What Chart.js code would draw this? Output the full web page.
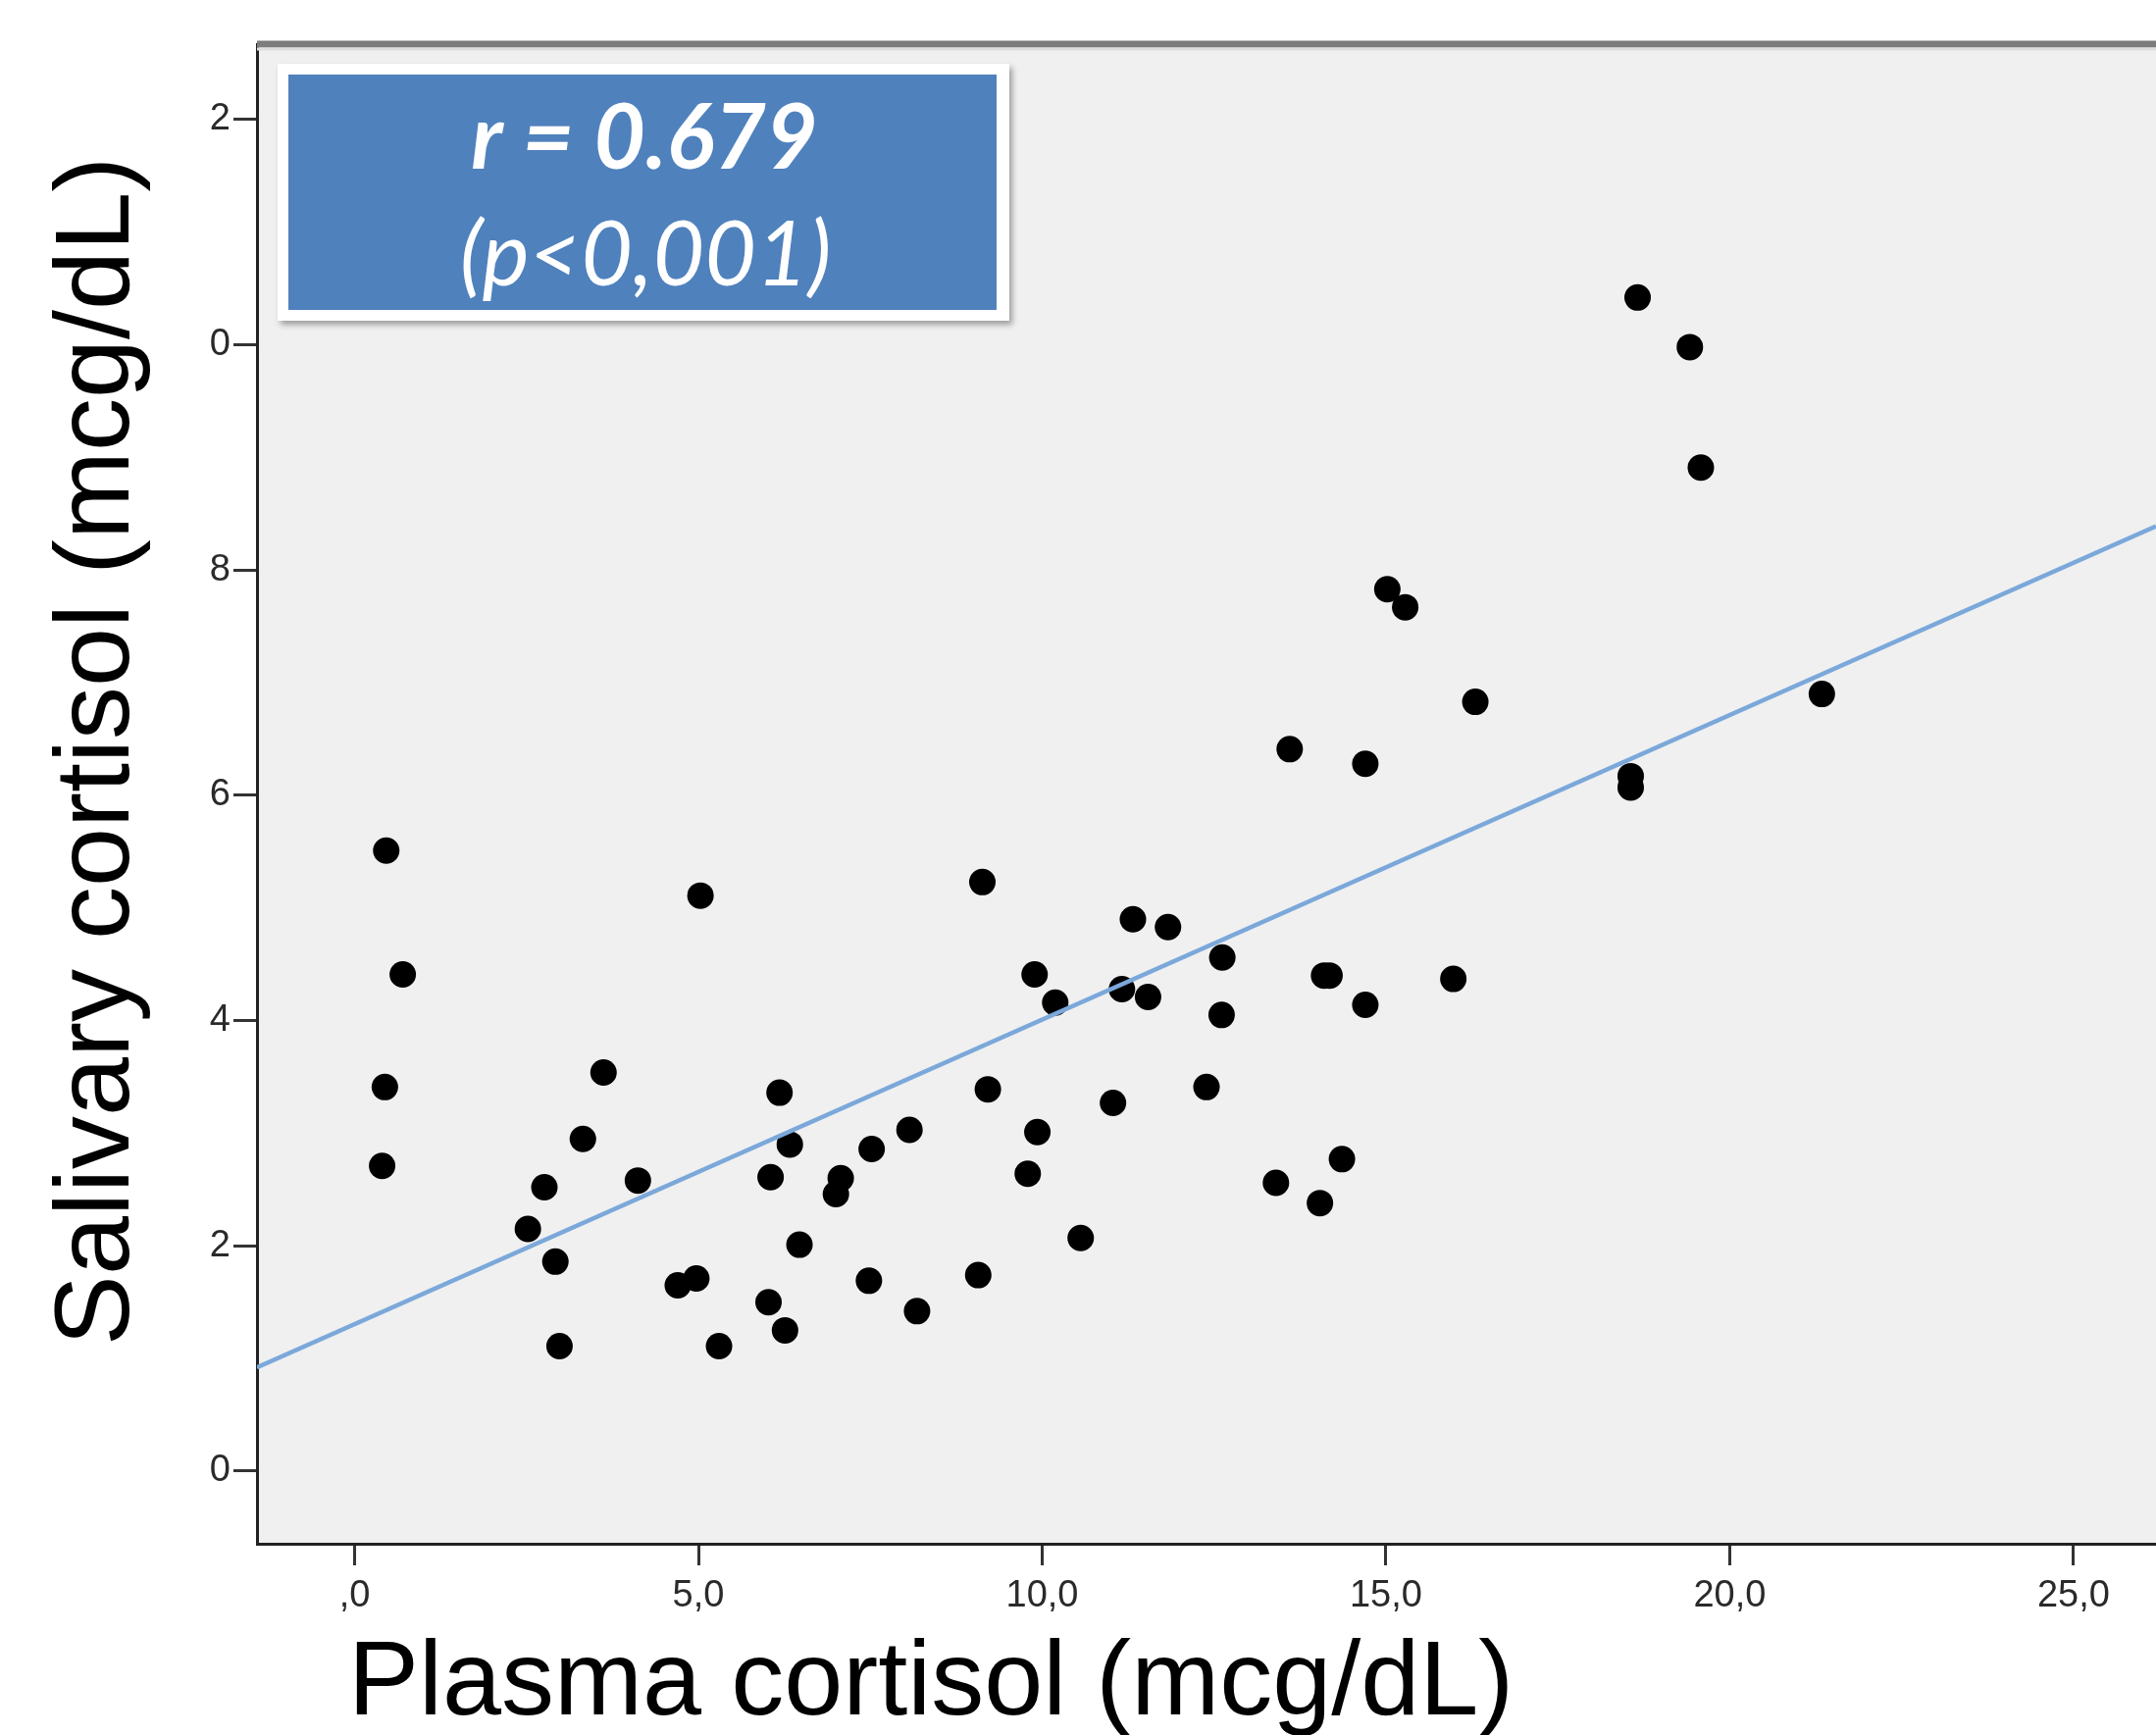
<!DOCTYPE html>
<html>
<head>
<meta charset="utf-8">
<script src="https://cdn.jsdelivr.net/npm/chart.js@4.4.1/dist/chart.umd.min.js"></script>
<style>
  html, body { margin: 0; padding: 0; background: #ffffff; }
  #c { display: block; }
</style>
</head>
<body>
<canvas id="c" width="2198" height="1769" style="width:2198px;height:1769px"></canvas>
<script>
// ---- Data ----
const plasmaCortisol = [0.46,0.70,0.44,0.40,2.52,2.76,2.92,2.98,3.32,3.62,4.12,4.70,4.97,5.03,5.30,6.02,6.05,6.18,6.26,6.33,6.47,7.00,7.07,7.48,7.52,8.07,8.18,9.07,9.13,9.21,9.79,9.89,9.93,10.19,10.56,11.03,11.16,11.32,11.54,11.83,12.39,12.61,12.62,13.40,13.60,14.04,14.10,14.18,14.36,14.70,14.70,15.02,15.28,15.98,16.30,18.56,18.56,18.66,19.42,19.58,21.34];
const salivaryCortisol = [5.51,4.41,3.41,2.71,2.15,2.52,1.86,1.11,2.95,3.54,2.58,1.65,1.71,5.11,1.11,1.50,2.61,3.36,1.25,2.90,2.01,2.46,2.60,1.69,2.86,3.03,1.42,1.74,5.23,3.39,2.64,4.41,3.01,4.16,2.07,3.27,4.28,4.90,4.21,4.83,3.41,4.05,4.56,2.56,6.41,2.38,4.40,4.40,2.77,6.28,4.14,7.83,7.67,4.37,6.83,6.17,6.07,10.42,9.98,8.91,6.90];

const fitLineX = [-1.42, 26.2];
const fitLineY = [0.92, 8.39];

const xTickValues = [0, 5, 10, 15, 20, 25];
const xTickLabels = [",0", "5,0", "10,0", "15,0", "20,0", "25,0"];
const yTickValues = [0, 2, 4, 6, 8, 10, 12];
const yTickLabels = ["0", "2", "4", "6", "8", "0", "2"];

const xTitle = "Plasma cortisol (mcg/dL)";
const yTitle = "Salivary cortisol (mcg/dL)";
const statLine1 = "r = 0.679";
const statLine2 = "(p<0,001)";

// ---- Build datasets ----
const points = plasmaCortisol.map((x, i) => ({ x: x, y: salivaryCortisol[i] }));
const fitPoints = fitLineX.map((x, i) => ({ x: x, y: fitLineY[i] }));

const tickFont = { family: "'Liberation Sans', Arial, sans-serif", size: 38 };

const decorPlugin = {
  id: 'decor',
  beforeDraw(chart) {
    const ctx = chart.ctx;
    const a = chart.chartArea;
    ctx.save();
    ctx.fillStyle = '#ffffff';
    ctx.fillRect(0, 0, chart.width, chart.height);
    ctx.fillStyle = '#f0f0f0';
    ctx.fillRect(a.left, a.top, a.right - a.left, a.bottom - a.top);
    ctx.restore();
  },
  afterDraw(chart) {
    const ctx = chart.ctx;
    const a = chart.chartArea;
    ctx.save();
    // top frame line
    ctx.strokeStyle = '#7c7c7c';
    ctx.lineWidth = 7;
    ctx.beginPath();
    ctx.moveTo(a.left, a.top);
    ctx.lineTo(a.right, a.top);
    ctx.stroke();
    ctx.strokeStyle = '#dedede';
    ctx.lineWidth = 3;
    ctx.beginPath();
    ctx.moveTo(a.left, a.top + 5);
    ctx.lineTo(a.right, a.top + 5);
    ctx.stroke();

    // statistics box
    ctx.save();
    ctx.shadowColor = 'rgba(0,0,0,0.35)';
    ctx.shadowBlur = 6;
    ctx.shadowOffsetX = 3;
    ctx.shadowOffsetY = 4;
    ctx.fillStyle = '#ffffff';
    ctx.fillRect(283, 65, 746, 262);
    ctx.restore();
    ctx.fillStyle = '#4f81bd';
    ctx.fillRect(294, 76, 722, 240);

    ctx.fillStyle = '#ffffff';
    ctx.textAlign = 'center';
    ctx.textBaseline = 'alphabetic';
    ctx.font = "italic bold 91px Lato, 'Open Sans', sans-serif";
    ctx.fillText(statLine1, 657, 172);
    ctx.font = "italic 91px Lato, 'Open Sans', sans-serif";
    ctx.fillText(statLine2, 658, 291);

    // axis titles
    ctx.fillStyle = '#000000';
    ctx.font = "108px 'Liberation Sans', Arial, sans-serif";
    ctx.textAlign = 'left';
    ctx.fillText(xTitle, 355, 1748);

    ctx.save();
    ctx.translate(131, 766);
    ctx.rotate(-Math.PI / 2);
    ctx.textAlign = 'center';
    ctx.fillText(yTitle, 0, 0);
    ctx.restore();

    ctx.restore();
  }
};

new Chart(document.getElementById('c'), {
  type: 'scatter',
  data: {
    datasets: [
      {
        type: 'line',
        data: fitPoints,
        borderColor: '#7ba8da',
        borderWidth: 4.5,
        pointRadius: 0,
        fill: false,
        tension: 0,
        order: 0
      },
      {
        type: 'scatter',
        data: points,
        backgroundColor: '#000000',
        borderWidth: 0,
        pointRadius: 13.5,
        order: 1
      }
    ]
  },
  options: {
    responsive: false,
    animation: false,
    devicePixelRatio: 1,
    layout: { autoPadding: false, padding: { top: 45, left: 0, right: 0, bottom: 0 } },
    plugins: { legend: { display: false }, tooltip: { enabled: false } },
    scales: {
      x: {
        type: 'linear',
        min: -1.42,
        max: 26.2,
        afterBuildTicks: s => { s.ticks = xTickValues.map(v => ({ value: v })); },
        afterFit: s => { s.height = 195; },
        ticks: {
          autoSkip: false,
          maxRotation: 0,
          padding: 9,
          color: '#2a2a2a',
          font: tickFont,
          callback: v => xTickLabels[xTickValues.indexOf(v)]
        },
        grid: { drawOnChartArea: false, drawTicks: true, tickLength: 22, tickWidth: 3, tickColor: '#333333' },
        border: { display: true, color: '#222222', width: 3 }
      },
      y: {
        type: 'linear',
        min: -0.645,
        max: 12.67,
        afterBuildTicks: s => { s.ticks = yTickValues.map(v => ({ value: v })); },
        afterFit: s => { s.width = 262; },
        ticks: {
          autoSkip: false,
          padding: 3,
          color: '#2a2a2a',
          font: tickFont,
          callback: v => yTickLabels[yTickValues.indexOf(v)]
        },
        grid: { drawOnChartArea: false, drawTicks: true, tickLength: 24, tickWidth: 3, tickColor: '#333333' },
        border: { display: true, color: '#222222', width: 3 }
      }
    }
  },
  plugins: [decorPlugin]
});
</script>
</body>
</html>
